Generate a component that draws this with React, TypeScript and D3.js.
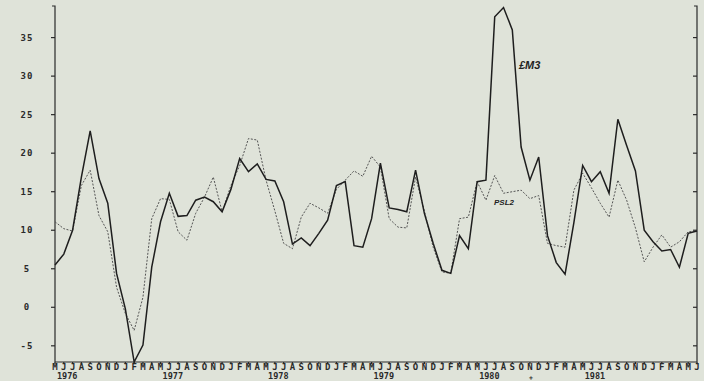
import React from 'react';
import * as d3 from 'd3';

// monthly growth rates, May 1976 .. Jun 1982
const m3 = [
  5.5, 6.9, 10, 16.9, 22.9, 16.7, 13.5, 4.4,
  -0.2, -7.1, -4.9, 5.2, 11.1, 14.8, 11.8, 11.9, 13.9, 14.3, 13.7, 12.4,
  15.3, 19.3, 17.6, 18.6, 16.6, 16.4, 13.7, 8.2, 9, 8, 9.6, 11.3,
  15.8, 16.3, 8, 7.8, 11.5, 18.7, 12.9, 12.7, 12.4, 17.8, 12.2, 8.3,
  4.8, 4.4, 9.3, 7.6, 16.3, 16.5, 37.7, 38.9, 36, 20.8, 16.5, 19.5,
  9.3, 5.8, 4.3, 11, 18.4, 16.3, 17.6, 14.8, 24.4, 21, 17.7, 10,
  8.5, 7.3, 7.5, 5.2, 9.6, 9.9,
];

const psl2 = [
  11.1, 10.2, 9.9, 15.8, 17.8, 11.9, 9.8, 2.6,
  -0.8, -3, 1.3, 11.5, 14.1, 14, 9.8, 8.7, 12.2, 14.3, 16.9, 12.4,
  15.8, 18.4, 21.9, 21.7, 16.5, 12.5, 8.3, 7.6, 11.7, 13.5, 12.9, 12.2,
  15.3, 16.5, 17.7, 17, 19.6, 18.2, 11.5, 10.4, 10.3, 16.9, 12.5, 7.8,
  4.6, 4.4, 11.5, 11.7, 16.3, 13.9, 17.1, 14.8, 15, 15.2, 14.1, 14.5,
  8.3, 8, 7.8, 15.2, 17.4, 15.5, 13.5, 11.7, 16.5, 13.9, 10.3, 5.9,
  7.8, 9.4, 7.8, 8.5, 9.8, 9.9,
];

const monthInitials = ['J', 'F', 'M', 'A', 'M', 'J', 'J', 'A', 'S', 'O', 'N', 'D'];
const yearLabels = ['1976', '1977', '1978', '1979', '1980', '1981'];
const yTicks = [-5, 0, 5, 10, 15, 20, 25, 30, 35];

const W = 704;
const H = 381;
const left = 55;
const right = 697;
const top = 6;
const bottom = 362;

const months = d3.timeMonths(new Date(1976, 4, 1), new Date(1982, 6, 1));

const x = d3.scaleLinear().domain([0, months.length - 1]).range([left, right]);
const y = d3.scaleLinear().domain([-7.1, 39.1]).range([bottom, top]);

const line = d3.line<number>()
  .x((_, i) => x(i))
  .y(d => y(d));

const plotFont = "'DejaVu Sans Mono', monospace";

export default function App() {
  return (
    <svg width={W} height={H} style={{ position: 'absolute', left: 0, top: 0 }}>
      <rect width={W} height={H} fill="#dfe3d9" />

      {/* axes */}
      <g stroke="#2a2a2a" strokeWidth={1.2} fill="none">
        <path d={`M${left - 3},${top}H${left}V${bottom}H${right}V${top}H${right - 3}`} />
        {yTicks.map(t => (
          <g key={t}>
            <line x1={left - 4} x2={left} y1={y(t)} y2={y(t)} />
            <line x1={right - 4} x2={right} y1={y(t)} y2={y(t)} />
          </g>
        ))}
        {months.map((_, i) => (
          <line key={i} x1={x(i)} x2={x(i)} y1={bottom} y2={bottom + 2} />
        ))}
      </g>

      {/* y labels */}
      <g fontFamily={plotFont} fontWeight="bold" fontSize={9} fill="#2a2a2a" letterSpacing={1}>
        {yTicks.map(t => (
          <text key={t} x={27} y={y(t)} dy="0.35em" textAnchor="middle">{t}</text>
        ))}
      </g>

      {/* month letters and years */}
      <g fontFamily={plotFont} fontWeight="bold" fontSize={9} fill="#2a2a2a">
        {months.map((d, i) => (
          <text key={i} x={x(i)} y={bottom + 8} textAnchor="middle">{monthInitials[d.getMonth()]}</text>
        ))}
        {yearLabels.map(yr => {
          const i = months.findIndex(d => d.getFullYear() === +yr && d.getMonth() === 4);
          return (
            <text key={yr} x={x(i) + 2} y={bottom + 17} fontSize={8.5}>{yr}</text>
          );
        })}
        <text x={x(54) - 1} y={bottom + 18} fontSize={6.5}>+</text>
      </g>

      {/* series */}
      <path d={line(psl2) ?? ''} fill="none" stroke="#555" strokeWidth={1} strokeDasharray="2,1.5" />
      <path d={line(m3) ?? ''} fill="none" stroke="#1e1e1e" strokeWidth={1.5} strokeLinejoin="miter" />

      {/* handwritten annotations */}
      <g fontFamily="'Liberation Sans', sans-serif" fontStyle="italic" fontWeight="bold" fill="#222">
        <text x={519} y={69} fontSize={11}>£M3</text>
        <text x={494} y={205} fontSize={8}>PSL2</text>
      </g>
    </svg>
  );
}
